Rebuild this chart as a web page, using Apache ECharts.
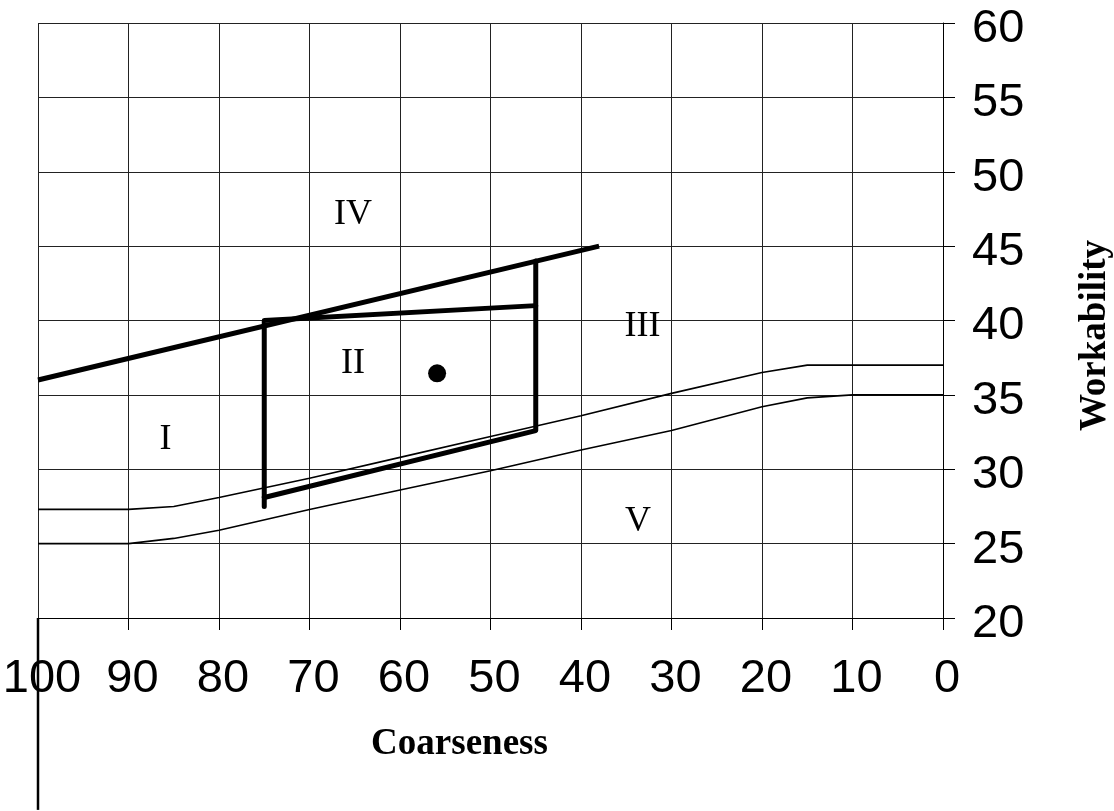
<!DOCTYPE html>
<html><head><meta charset="utf-8">
<script src="https://cdn.jsdelivr.net/npm/echarts@6/dist/echarts.min.js"></script>
<style>html,body{margin:0;padding:0;background:#fff}#c{width:1114px;height:811px}</style>
</head><body><div id="c"></div>
<script>
// Tick values
const xTicks = [100, 90, 80, 70, 60, 50, 40, 30, 20, 10, 0];
const yTicks = [20, 25, 30, 35, 40, 45, 50, 55, 60];
// Thin boundary curves
const boundaryX = [100, 90, 85, 80, 70, 60, 50, 40, 30, 20, 15, 10, 0];
const upperBoundaryY = [27.3, 27.3, 27.5, 28.1, 29.4, 30.8, 32.2, 33.6, 35.1, 36.5, 37.0, 37.0, 37.0];
const lowerBoundaryY = [25.0, 25.0, 25.35, 25.9, 27.3, 28.6, 29.9, 31.3, 32.6, 34.2, 34.8, 35.0, 35.0];
// Thick line (II / IV boundary)
const topLineX = [100, 38];
const topLineY = [36, 45];
// Zone II box
const boxLeftX = [75, 75, 45];
const boxLeftY = [27.5, 40, 41];
const boxRightX = [45, 45, 75];
const boxRightY = [44, 32.6, 28.1];
// Mix point
const pointX = [55.9];
const pointY = [36.45];
// Zone labels
const zoneNames = ['I', 'II', 'III', 'IV', 'V'];
const zoneX = [85.9, 65.2, 33.2, 65.2, 33.7];
const zoneY = [32.0, 37.1, 39.6, 47.1, 26.5];
// Extended left frame line
const edgeX = [100, 100];
const edgeY = [20, 7.1];

const pairs = (xs, ys) => xs.map((x, i) => [x, ys[i]]);
const numFont = '"Liberation Sans", Arial, sans-serif';
const serif = '"Liberation Serif", "Times New Roman", serif';

const chart = echarts.init(document.getElementById('c'), null, {renderer: 'canvas'});
chart.setOption({
  animation: false,
  backgroundColor: '#fff',
  grid: {left: 38, right: 171, top: 23, bottom: 193, containLabel: false, outerBoundsMode: 'none'},
  xAxis: {
    type: 'value', inverse: true, min: 0, max: 100, interval: 10, position: 'bottom',
    name: 'Coarseness', nameLocation: 'middle', nameGap: 108,
    nameTextStyle: {fontFamily: serif, fontWeight: 'bold', fontSize: 37, color: '#000', padding: [0, 62, 0, 0]},
    axisLine: {show: true, onZero: false, lineStyle: {color: '#000', width: 1}},
    axisTick: {show: true, inside: false, length: 12, lineStyle: {color: '#000', width: 1}},
    axisLabel: {fontFamily: numFont, fontSize: 47, color: '#000', margin: 38, padding: [0, 0, 0, 8],
      formatter: v => xTicks.includes(v) ? String(v) : ''},
    splitLine: {show: true, lineStyle: {color: '#222', width: 1}}
  },
  yAxis: {
    type: 'value', position: 'right', min: 20, max: 60, interval: 5,
    name: 'Workability', nameLocation: 'middle', nameRotate: 90, nameGap: 134,
    nameTextStyle: {fontFamily: serif, fontWeight: 'bold', fontSize: 37, color: '#000', padding: [0, 30, 0, 0]},
    axisLine: {show: true, onZero: false, lineStyle: {color: '#000', width: 1}},
    axisTick: {show: true, inside: false, length: 12, lineStyle: {color: '#000', width: 1}},
    axisLabel: {fontFamily: numFont, fontSize: 47, color: '#000', margin: 29,
      verticalAlign: 'top', lineHeight: 12,
      formatter: v => yTicks.includes(v) ? String(v) : ''},
    splitLine: {show: true, lineStyle: {color: '#222', width: 1}}
  },
  series: [
    {type: 'line', data: pairs(boundaryX, upperBoundaryY), symbol: 'none', silent: true,
      lineStyle: {color: '#000', width: 1.6}},
    {type: 'line', data: pairs(boundaryX, lowerBoundaryY), symbol: 'none', silent: true,
      lineStyle: {color: '#000', width: 1.6}},
    {type: 'line', data: pairs(topLineX, topLineY), symbol: 'none', silent: true,
      lineStyle: {color: '#000', width: 5}},
    {type: 'line', data: pairs(boxLeftX, boxLeftY), symbol: 'none', silent: true,
      lineStyle: {color: '#000', width: 5, cap: 'round', join: 'round'}},
    {type: 'line', data: pairs(boxRightX, boxRightY), symbol: 'none', silent: true,
      lineStyle: {color: '#000', width: 5, cap: 'round', join: 'round'}},
    {type: 'line', data: pairs(edgeX, edgeY), symbol: 'none', silent: true, clip: false,
      lineStyle: {color: '#000', width: 2.5}},
    {type: 'scatter', data: pairs(pointX, pointY), symbol: 'circle', symbolSize: 18, silent: true,
      itemStyle: {color: '#000', opacity: 1}},
    {type: 'scatter', symbolSize: 0, silent: true, itemStyle: {color: '#000', opacity: 1},
      data: zoneNames.map((n, i) => ({name: n, value: [zoneX[i], zoneY[i]]})),
      label: {show: true, position: 'inside', formatter: p => p.name,
        fontFamily: serif, fontSize: 36, color: '#000', opacity: 1}}
  ]
});
</script></body></html>
